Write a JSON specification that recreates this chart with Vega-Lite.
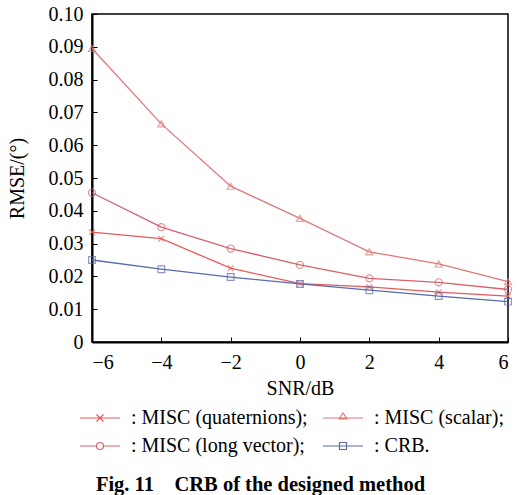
{
  "$schema": "https://vega.github.io/schema/vega-lite/v6.json",
  "width": 416,
  "height": 328,
  "autosize": "none",
  "padding": {"left": 92, "top": 14, "right": 11, "bottom": 153},
  "background": "white",
  "config": {
    "font": "Liberation Serif",
    "view": {"stroke": "black", "strokeWidth": 1.5},
    "axis": {"grid": false, "domainColor": "black", "domainWidth": 2, "tickColor": "black", "labelColor": "black", "titleColor": "black", "labelFont": "Liberation Serif", "titleFont": "Liberation Serif", "labelFontSize": 20, "titleFontSize": 20, "titleFontWeight": "normal"}
  },
  "title": {"text": "Fig. 11\u00a0\u00a0\u00a0\u00a0CRB of the designed method", "orient": "bottom", "anchor": "middle", "frame": "bounds", "font": "Liberation Serif", "fontSize": 20.5, "fontWeight": "bold", "color": "black", "offset": 19},
  "data": {"values": [
    {"snr": -6, "rmse": 0.0335, "s": "MISC (quaternions)"},
    {"snr": -4, "rmse": 0.0315, "s": "MISC (quaternions)"},
    {"snr": -2, "rmse": 0.0225, "s": "MISC (quaternions)"},
    {"snr": 0, "rmse": 0.0178, "s": "MISC (quaternions)"},
    {"snr": 2, "rmse": 0.0168, "s": "MISC (quaternions)"},
    {"snr": 4, "rmse": 0.0152, "s": "MISC (quaternions)"},
    {"snr": 6, "rmse": 0.0140, "s": "MISC (quaternions)"},
    {"snr": -6, "rmse": 0.0895, "s": "MISC (scalar)"},
    {"snr": -4, "rmse": 0.0665, "s": "MISC (scalar)"},
    {"snr": -2, "rmse": 0.0475, "s": "MISC (scalar)"},
    {"snr": 0, "rmse": 0.0377, "s": "MISC (scalar)"},
    {"snr": 2, "rmse": 0.0275, "s": "MISC (scalar)"},
    {"snr": 4, "rmse": 0.0238, "s": "MISC (scalar)"},
    {"snr": 6, "rmse": 0.0184, "s": "MISC (scalar)"},
    {"snr": -6, "rmse": 0.0455, "s": "MISC (long vector)"},
    {"snr": -4, "rmse": 0.0350, "s": "MISC (long vector)"},
    {"snr": -2, "rmse": 0.0285, "s": "MISC (long vector)"},
    {"snr": 0, "rmse": 0.0235, "s": "MISC (long vector)"},
    {"snr": 2, "rmse": 0.0194, "s": "MISC (long vector)"},
    {"snr": 4, "rmse": 0.0182, "s": "MISC (long vector)"},
    {"snr": 6, "rmse": 0.0160, "s": "MISC (long vector)"},
    {"snr": -6, "rmse": 0.0250, "s": "CRB"},
    {"snr": -4, "rmse": 0.0222, "s": "CRB"},
    {"snr": -2, "rmse": 0.0198, "s": "CRB"},
    {"snr": 0, "rmse": 0.0177, "s": "CRB"},
    {"snr": 2, "rmse": 0.0158, "s": "CRB"},
    {"snr": 4, "rmse": 0.0140, "s": "CRB"},
    {"snr": 6, "rmse": 0.0123, "s": "CRB"}
  ]},
  "encoding": {
    "x": {"field": "snr", "type": "quantitative", "title": "SNR/dB",
      "scale": {"domain": [-6, 6], "nice": false, "zero": false},
      "axis": {"values": [-6, -4, -2, 0, 2, 4, 6], "tickSize": -5, "labelPadding": 15, "titlePadding": 6}},
    "y": {"field": "rmse", "type": "quantitative", "title": "RMSE/(°)",
      "scale": {"domain": [0, 0.1], "nice": false},
      "axis": {"values": [0, 0.01, 0.02, 0.03, 0.04, 0.05, 0.06, 0.07, 0.08, 0.09, 0.1], "labelExpr": "datum.value === 0 ? '0' : format(datum.value, '.2f')", "tickSize": -5, "labelPadding": 14, "titlePadding": 21}}
  },
  "layer": [
    {"mark": {"type": "line", "strokeWidth": 1.3},
      "encoding": {
        "color": {"field": "s", "type": "nominal",
          "scale": {"domain": ["MISC (quaternions)", "MISC (scalar)", "MISC (long vector)", "CRB"], "range": ["#e65a5a", "#e07878", "#d8606c", "#5a6aaa"]},
          "legend": {
            "orient": "none", "legendX": -17, "legendY": 394, "direction": "horizontal", "columns": 2,
            "title": null, "symbolSize": 100, "labelOffset": 36, "labelFontSize": 20, "labelFont": "Liberation Serif", "labelColor": "black", "labelLimit": 400,
            "rowPadding": 8, "columnPadding": 10, "symbolStrokeWidth": 1.2, "symbolFillColor": "transparent",
            "labelExpr": "': ' + datum.label + (datum.label === 'CRB' ? '.' : ';')",
            "symbolType": {"expr": "datum.value === 'MISC (quaternions)' ? 'M -1 0 L 7 0 M 2.3 -0.7 L 3.7 0.7 M 2.3 0.7 L 3.7 -0.7' : datum.value === 'MISC (scalar)' ? 'M -1 0 L 7 0 M 3 -1 L 3.8 0.2 L 2.2 0.2 Z' : datum.value === 'MISC (long vector)' ? 'M -1 0 L 2.3 0 M 3.7 0 L 7 0 M 3.7 0 A 0.7 0.7 0 1 1 2.3 0 A 0.7 0.7 0 1 1 3.7 0' : 'M -1 0 L 7 0 M 2.3 -0.7 L 3.7 -0.7 L 3.7 0.7 L 2.3 0.7 Z'"}
          }}
      }},
    {"transform": [{"filter": "datum.s === 'MISC (quaternions)'"}],
      "mark": {"type": "point", "filled": false, "strokeWidth": 1.2, "size": 50, "shape": "M -0.8 -0.8 L 0.8 0.8 M -0.8 0.8 L 0.8 -0.8"},
      "encoding": {"color": {"field": "s", "type": "nominal", "legend": null}}},
    {"transform": [{"filter": "datum.s === 'MISC (scalar)'"}],
      "mark": {"type": "point", "filled": false, "strokeWidth": 1.2, "size": 50, "shape": "triangle-up"},
      "encoding": {"color": {"field": "s", "type": "nominal", "legend": null}}},
    {"transform": [{"filter": "datum.s === 'MISC (long vector)'"}],
      "mark": {"type": "point", "filled": false, "strokeWidth": 1.2, "size": 50, "shape": "circle"},
      "encoding": {"color": {"field": "s", "type": "nominal", "legend": null}}},
    {"transform": [{"filter": "datum.s === 'CRB'"}],
      "mark": {"type": "point", "filled": false, "strokeWidth": 1.2, "size": 45, "shape": "square"},
      "encoding": {"color": {"field": "s", "type": "nominal", "legend": null}}}
  ]
}
